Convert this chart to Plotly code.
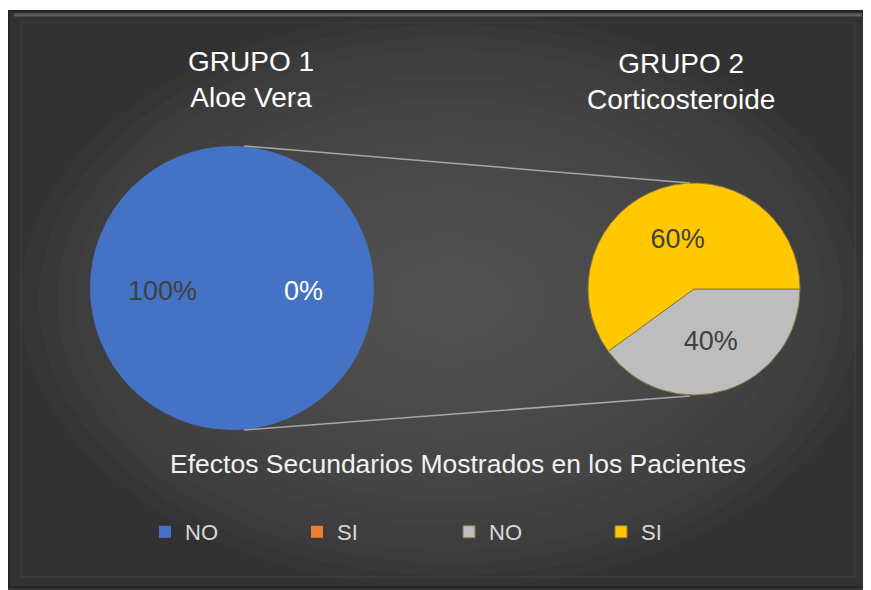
import plotly.graph_objects as go

# ---- data ----
group1_labels = ["NO", "SI"]
group1_values = [100, 0]
group2_labels = ["NO ", "SI "]   # trailing space keeps legend entries separate
group2_values = [40, 60]
group_titles = ["GRUPO 1<br>Aloe Vera", "GRUPO 2<br>Corticosteroide"]
chart_title = "Efectos Secundarios Mostrados en los Pacientes"

W, H = 871, 590
OFF = 8  # page body margin offsets the figure by 8px

def px(x):
    return (x - OFF) / W

def py(y):
    return 1 - (y - OFF) / H

FONT = "Liberation Sans, Arial, sans-serif"

fig = go.Figure()

fig.add_trace(go.Pie(
    labels=group1_labels, values=group1_values, sort=False,
    direction="clockwise", rotation=90,
    marker=dict(colors=["#4472C4", "#ED7D31"], line=dict(width=0)),
    textinfo="none", hoverinfo="skip",
    domain=dict(x=[px(90), px(374)], y=[py(430), py(146)]),
    showlegend=True,
))

fig.add_trace(go.Pie(
    labels=group2_labels, values=group2_values, sort=False,
    direction="clockwise", rotation=90,
    marker=dict(colors=["#BDBDBD", "#FFC800"], line=dict(color="#8a7a40", width=1)),
    textinfo="percent", texttemplate="%{percent:.0%}",
    textposition="inside", insidetextorientation="horizontal",
    textfont=dict(size=27, color="#404040", family=FONT),
    hoverinfo="skip",
    domain=dict(x=[px(588), px(800)], y=[py(395), py(183)]),
    showlegend=True,
))

shapes = []
# frame
shapes.append(dict(type="rect", xref="paper", yref="paper", x0=px(8), x1=px(868), y0=py(600), y1=py(10),
                   fillcolor="#323232", line=dict(width=0), layer="below"))
# radial-ish gradient
cx, cy = 450, 300
n = 22
for i in range(n):
    t = i / (n - 1)
    rx = 430 * (1 - t) + 40 * t
    ry = 288 * (1 - t) + 27 * t
    c = int(0x35 + (0x52 - 0x35) * (t ** 0.6))
    col = f"rgb({c},{c},{c})"
    shapes.append(dict(type="circle", xref="paper", yref="paper",
                       x0=px(cx - rx), x1=px(cx + rx), y0=py(cy + ry), y1=py(cy - ry),
                       fillcolor=col, line=dict(width=0), layer="below"))
# bevel edges
shapes.append(dict(type="rect", xref="paper", yref="paper", x0=px(9), x1=px(867), y0=py(587), y1=py(11),
                   fillcolor="rgba(0,0,0,0)", line=dict(color="#262626", width=2), layer="below"))
shapes.append(dict(type="line", xref="paper", yref="paper", x0=px(14), x1=px(862), y0=py(15), y1=py(15),
                   line=dict(color="#5c5c5c", width=3), layer="below"))
shapes.append(dict(type="rect", xref="paper", yref="paper", x0=px(21), x1=px(855), y0=py(577), y1=py(23),
                   fillcolor="rgba(0,0,0,0)", line=dict(color="rgba(75,75,75,0.6)", width=1), layer="below"))
# connector lines
shapes.append(dict(type="line", xref="paper", yref="paper", x0=px(244), y0=py(146), x1=px(690), y1=py(183),
                   line=dict(color="#a6a6a6", width=1.5)))
shapes.append(dict(type="line", xref="paper", yref="paper", x0=px(244), y0=py(430), x1=px(690), y1=py(396),
                   line=dict(color="#a6a6a6", width=1.5)))

annotations = []
annotations.append(dict(text=group_titles[0], x=px(251), y=py(79), xref="paper", yref="paper",
                        xanchor="center", yanchor="middle",
                        showarrow=False, font=dict(size=28, color="#ffffff", family=FONT)))
annotations.append(dict(text=group_titles[1], x=px(681), y=py(81), xref="paper", yref="paper",
                        xanchor="center", yanchor="middle",
                        showarrow=False, font=dict(size=28, color="#ffffff", family=FONT)))
annotations.append(dict(text=chart_title, x=px(458), y=py(464), xref="paper", yref="paper",
                        xanchor="center", yanchor="middle",
                        showarrow=False, font=dict(size=26.5, color="#f2f2f2", family=FONT)))
tot1 = sum(group1_values)
g1_pos = [(162, 291, "#404040"), (303, 291, "#ffffff")]
for v, (x, y, c) in zip(group1_values, g1_pos):
    annotations.append(dict(text=f"{v / tot1 * 100:.0f}%", x=px(x), y=py(y), xref="paper", yref="paper",
                            xanchor="center", yanchor="middle",
                            showarrow=False, font=dict(size=27, color=c, family=FONT)))

fig.update_layout(
    width=W, height=H,
    margin=dict(l=0, r=0, t=0, b=0),
    paper_bgcolor="#ffffff", plot_bgcolor="#ffffff",
    shapes=shapes, annotations=annotations,
    legend=dict(orientation="h", x=px(145), y=py(532), xanchor="left", yanchor="middle",
                entrywidth=107, entrywidthmode="pixels", traceorder="normal",
                font=dict(size=22, color="#d9d9d9", family=FONT), bgcolor="rgba(0,0,0,0)"),
    font=dict(family=FONT),
)

fig.write_html("out.html")
